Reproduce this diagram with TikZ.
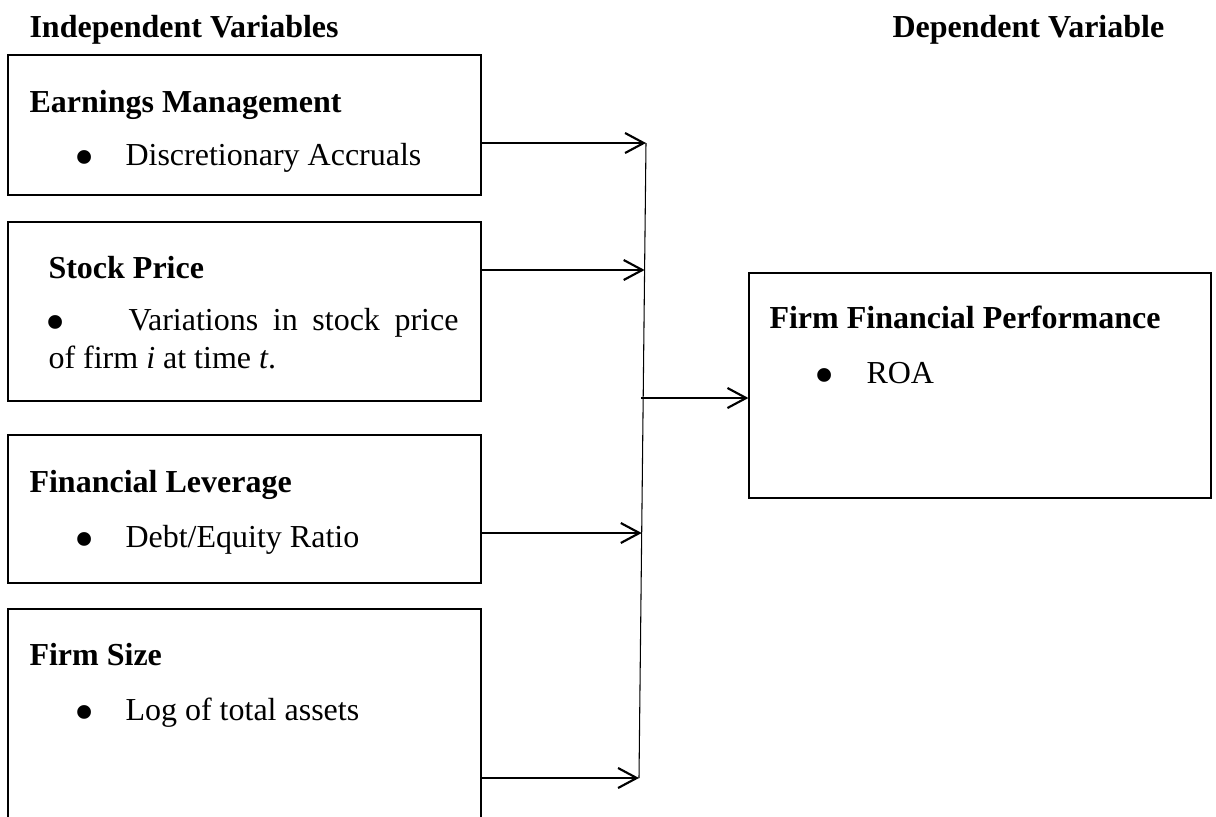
\documentclass[tikz,border=0pt]{standalone}
\usepackage{fontspec}
\setmainfont{Liberation Serif}
\usepackage{tikz}
\usetikzlibrary{arrows.meta}
\usetikzlibrary{positioning}
\newcommand{\bigbul}{\raisebox{-4.2pt}[0pt][0pt]{\scalebox{1.8}{\textbullet}}}

\begin{document}
\begin{tikzpicture}[x=0.375pt, y=-0.375pt, font=\fontsize{12}{14}\selectfont,
	varbox/.style={draw, rectangle, line width=0.45pt, inner sep=0pt},
	txt/.style={anchor=base west, inner sep=0pt},
	dot/.style={anchor=base, inner sep=0pt},
	flow/.style={line width=0.7pt, -{Straight Barb[length=7pt, width=7.5pt, line width=0.8pt]}},
	trunk/.style={line width=0.4pt}]
		\useasboundingbox (0,0) rectangle (1216,816);
		
		\node[txt](head0) at (29, 37) {\textbf{Independent Variables}};
		\node[txt](head1) at (892, 37) {\textbf{Dependent Variable}};
		
		\node[varbox, minimum width=177.375pt, minimum height=52.5pt](var0) at (244.5, 125) {};
		\node[txt](var0t) at (29, 112) {\textbf{Earnings Management}};
		\node[dot](var0d) at (85, 165) {\bigbul};
		\node[txt](var0i) at (125, 165) {Discretionary Accruals};
		
		\node[varbox, minimum width=177.375pt, minimum height=67.125pt](var1) at (244.5, 311.5) {};
		\node[txt](var1t) at (48, 278) {\textbf{Stock Price}};
		\node[dot](var1d) at (56, 330) {\bigbul};
		\node[txt](var1i) at (128, 330) {\makebox[123.75pt][s]{Variations in stock price}};
		\node[txt](var1j) at (48, 368) {of firm \textit{i} at time \textit{t}.};
		
		\node[varbox, minimum width=177.375pt, minimum height=55.5pt](var2) at (244.5, 509) {};
		\node[txt](var2t) at (29, 492) {\textbf{Financial Leverage}};
		\node[dot](var2d) at (85, 547) {\bigbul};
		\node[txt](var2i) at (125, 547) {Debt/Equity Ratio};
		
		\node[varbox, minimum width=177.375pt, minimum height=79.125pt](var3) at (244.5, 714.5) {};
		\node[txt](var3t) at (29, 665) {\textbf{Firm Size}};
		\node[dot](var3d) at (85, 720) {\bigbul};
		\node[txt](var3i) at (125, 720) {Log of total assets};
		
		\node[varbox, minimum width=173.25pt, minimum height=84.375pt](perf) at (980, 385.5) {};
		\node[txt](perft) at (769, 328) {\textbf{Firm Financial Performance}};
		\node[dot](perfd) at (825, 383) {\bigbul};
		\node[txt](perfi) at (866, 383) {ROA};
		
		\coordinate (j0) at (646, 143);
		\coordinate (j1) at (644.6, 270);
		\coordinate (jm) at (641.2, 398);
		\coordinate (j2) at (641.7, 533);
		\coordinate (j3) at (639, 778);
		
		\draw[trunk] (j0) -- (j3);
		\draw[flow] (var0.east |- j0) -- (j0);
		\draw[flow] (var1.east |- j1) -- (j1);
		\draw[flow] (var2.east |- j2) -- (j2);
		\draw[flow] (var3.east |- j3) -- (j3);
		\draw[flow] (jm) -- (perf.west |- jm);
		\end{tikzpicture}
\end{document}
